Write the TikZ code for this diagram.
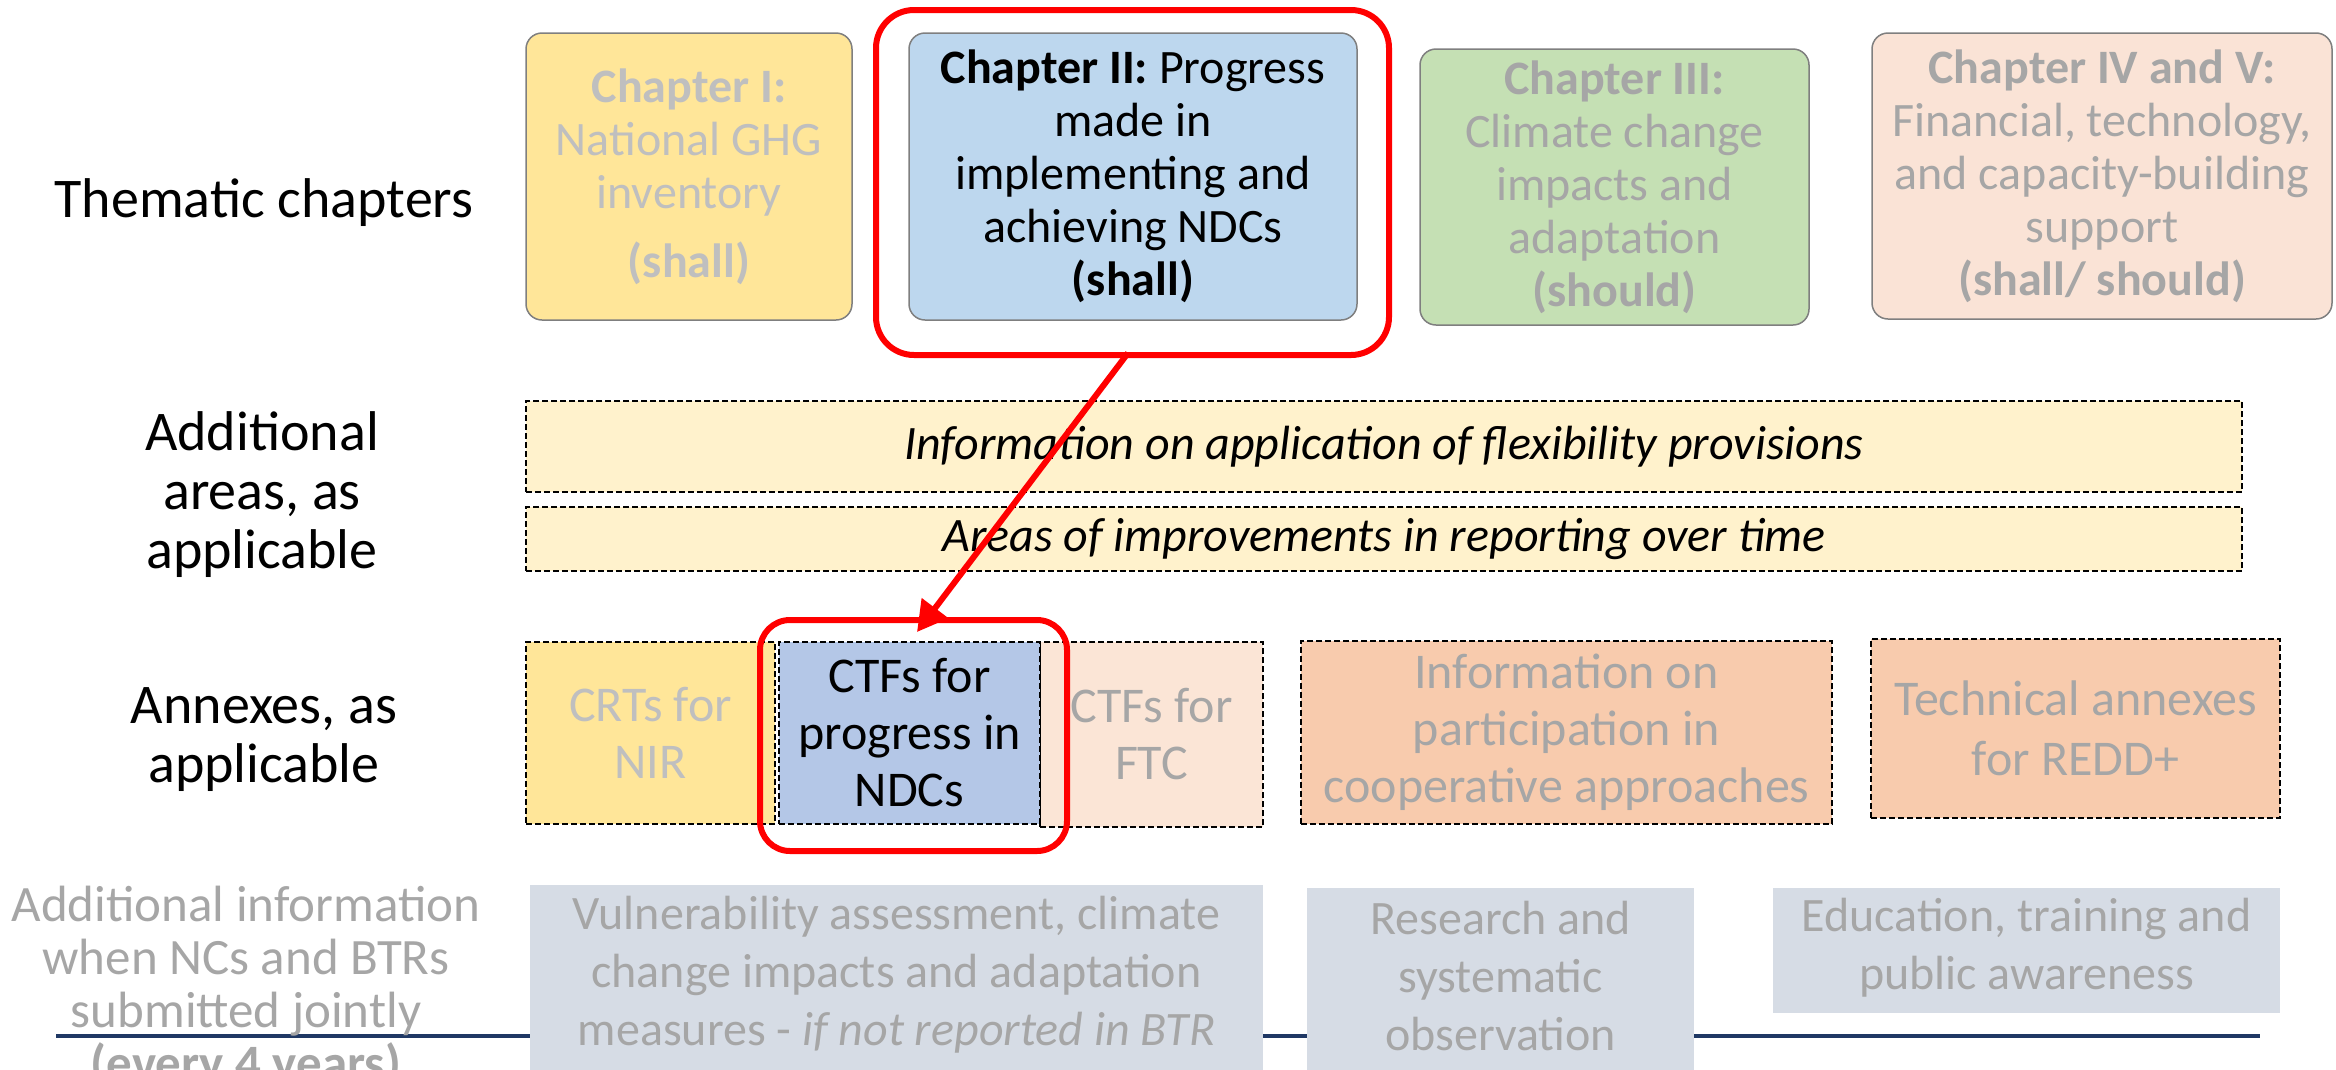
\documentclass[tikz,border=0pt]{standalone}
\usepackage{fontspec}
\setmainfont{Carlito}
\usetikzlibrary{arrows.meta,calc}
\definecolor{chapIfill}{HTML}{FFE699}
\definecolor{chapIIfill}{HTML}{BDD7EE}
\definecolor{chapIIIfill}{HTML}{C5E0B4}
\definecolor{chapIVfill}{HTML}{FAE3D6}
\definecolor{flexfill}{HTML}{FFF2CC}
\definecolor{ctffill}{HTML}{B4C7E7}
\definecolor{ftcfill}{HTML}{FBE5D6}
\definecolor{orangefill}{HTML}{F8CBAD}
\definecolor{bluegrey}{HTML}{D6DCE5}
\definecolor{lightgreytext}{HTML}{BFBFBF}
\definecolor{greytext}{HTML}{A6A6A6}
\definecolor{navyline}{HTML}{1F3864}
\definecolor{boxborder}{HTML}{7F7F7F}
\definecolor{hlred}{HTML}{FF0000}
\tikzset{
  boxfont/.style={font=\fontsize{48}{53}\selectfont},
  annexfont/.style={font=\fontsize{50}{57}\selectfont},
  labelfont/.style={font=\fontsize{56}{59}\selectfont},
  chapbox/.style={draw=boxborder, line width=1.5pt, rounded corners=16pt, inner sep=0pt, align=center, boxfont},
  dashbox/.style={draw=black, line width=2pt, dash pattern=on 6pt off 3pt, inner sep=0pt, align=center, boxfont},
  annexbox/.style={dashbox, annexfont},
  greybox/.style={fill=bluegrey, draw=none, inner sep=0pt},
  hlbox/.style={draw=hlred, line width=6pt, rounded corners=38pt, inner sep=0pt},
  rowlabel/.style={align=center, labelfont, inner sep=0pt},
  btext/.style={align=center, font=\fontsize{48}{58}\selectfont, text=greytext, inner sep=0pt},
  hlarrow/.style={draw=hlred, line width=6pt, -{Triangle[length=30pt,width=32pt]}},
}
\begin{document}
\begin{tikzpicture}[x=1pt,y=-1pt]
\useasboundingbox (0,0) rectangle (2336,1069);
\clip (0,0) rectangle (2336,1069);

% row labels
\node[rowlabel] (lthem) at (264,203) {Thematic chapters};
\node[rowlabel] (ladd) at (262,495) {Additional\\areas, as\\applicable};
\node[rowlabel] (lann) at (264,740) {Annexes, as\\applicable};

% thematic chapters
\node[chapbox, fill=chapIfill, text=lightgreytext, minimum width=326, minimum height=287] (c1) at (689,176.5)
  {\textbf{Chapter I:}\\National GHG\\inventory\\[16pt]\textbf{(shall)}};
\node[chapbox, fill=chapIIfill, text=black, minimum width=448, minimum height=287] (c2) at (1133,176.5)
  {\textbf{Chapter II:} Progress\\made in\\implementing and\\achieving NDCs\\\textbf{(shall)}};
\node[chapbox, fill=chapIIIfill, text=greytext, minimum width=389, minimum height=276] (c3) at (1614.5,187)
  {\textbf{Chapter III:}\\Climate change\\impacts and\\adaptation\\\textbf{(should)}};
\node[chapbox, fill=chapIVfill, text=greytext, minimum width=460, minimum height=286] (c4) at (2102,176)
  {\textbf{Chapter IV and V:}\\Financial, technology,\\and capacity-building\\support\\\textbf{(shall/ should)}};
\node[hlbox, minimum width=513, minimum height=345] (red1) at (1132.5,182.5) {};

% additional areas
\node[dashbox, fill=flexfill, minimum width=1716, minimum height=91] (flex) at (1384,446.5)
  {\itshape Information on application of flexibility provisions};
\node[dashbox, fill=flexfill, minimum width=1716, minimum height=64] (areas) at (1384,539)
  {\itshape Areas of improvements in reporting over time};

% annexes
\node[annexbox, fill=chapIfill, text=lightgreytext, minimum width=249, minimum height=182] (crt) at (650.5,733)
  {CRTs for\\NIR};
\node[annexbox, fill=ftcfill, text=greytext, minimum width=223, minimum height=185] (ftc) at (1151.5,734.5)
  {CTFs for\\FTC};
\node[annexbox, fill=ctffill, text=black, minimum width=261, minimum height=182] (ctf) at (909.5,733)
  {CTFs for\\progress in\\NDCs};
\node[annexbox, fill=orangefill, text=greytext, minimum width=531, minimum height=183] (coop) at (1566.5,732)
  {Information on\\participation in\\cooperative approaches};
\node[annexbox, fill=orangefill, text=greytext, minimum width=409, minimum height=179] (redd) at (2075.5,728.5)
  {Technical annexes\\[3pt]for REDD+};
\node[hlbox, minimum width=307, minimum height=231, rounded corners=30pt] (red2) at (913.5,735.5) {};

% arrow
\coordinate (astart) at (1128,353);
\coordinate (aend) at (917,632);
\draw[hlarrow] (astart) -- (aend);

% bottom row
\coordinate (lineL) at (56,1036);
\coordinate (lineR) at (2260,1036);
\draw[navyline, line width=3.5pt] (lineL) -- (lineR);
\node[rowlabel, font=\fontsize{51}{53}\selectfont, text=greytext] (ljoint) at (246,987)
  {Additional information\\when NCs and BTRs\\submitted jointly\\\textbf{(every 4 years)}};
\node[greybox, minimum width=733, minimum height=230] (vuln) at (896.5,1000) {};
\node[btext] (vulnt) at (896.5,975)
  {Vulnerability assessment, climate\\change impacts and adaptation\\measures - \textit{if not reported in BTR}};
\node[greybox, minimum width=387, minimum height=230] (rso) at (1500.5,1003) {};
\node[btext] (rsot) at (1500.5,976) {Research and\\systematic\\observation};
\node[greybox, minimum width=507, minimum height=125] (edu) at (2026.5,950.5) {};
\node[btext] (edut) at (2026.5,948) {Education, training and\\public awareness};
\end{tikzpicture}
\end{document}
